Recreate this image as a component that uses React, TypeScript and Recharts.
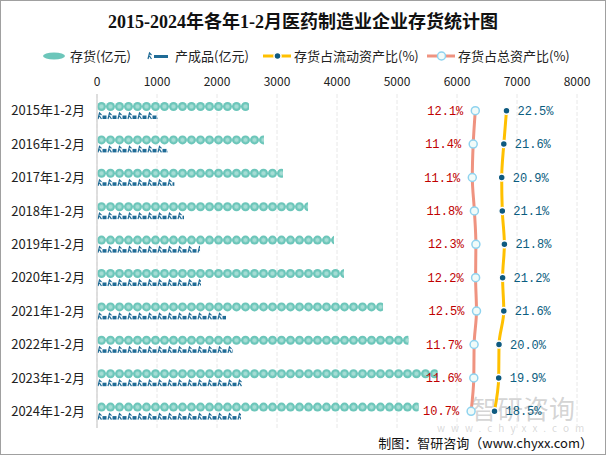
import React from 'react';
import { ComposedChart, Bar, Line, XAxis, YAxis, CartesianGrid, LabelList } from 'recharts';

const years = ['2015年1-2月', '2016年1-2月', '2017年1-2月', '2018年1-2月', '2019年1-2月', '2020年1-2月', '2021年1-2月', '2022年1-2月', '2023年1-2月', '2024年1-2月'];
const inventory = [2533, 2783, 3100, 3517, 3950, 4117, 4767, 5190, 5678, 5361];
const finishedGoods = [1017, 1183, 1289, 1450, 1717, 1733, 2150, 2267, 2417, 2400];
const currentAssetRatio = [22.5, 21.6, 20.9, 21.1, 21.8, 21.2, 21.6, 20.0, 19.9, 18.5];
const totalAssetRatio = [12.1, 11.4, 11.1, 11.8, 12.3, 12.2, 12.5, 11.7, 11.6, 10.7];
const valueTicks = [0, 1000, 2000, 3000, 4000, 5000, 6000, 7000, 8000];

const data = years.map((year, i) => ({
  year,
  inv: inventory[i],
  fg: finishedGoods[i],
  cur: currentAssetRatio[i],
  tot: totalAssetRatio[i],
}));

const CJK = '"Noto Sans CJK SC", "Noto Sans", sans-serif';
const INV_COLOR = '#6cc6ba';
const FG_COLOR = '#1f6b96';

const InvShape = (props: any) => {
  const { x, y, width, height, index } = props;
  if (!width || width <= 0) return null;
  const r = height / 2;
  const step = height;
  const n = Math.ceil(width / step);
  const id = `inv-clip-${index}`;
  return (
    <g>
      <defs>
        <clipPath id={id}>
          <rect x={x} y={y - 1} width={width} height={height + 2} />
        </clipPath>
      </defs>
      <g clipPath={`url(#${id})`}>
        {Array.from({ length: n }, (_, i) => {
          const cx = x + r + i * step;
          const cy = y + r;
          return (
            <g key={i}>
              <circle cx={cx} cy={cy} r={r} fill={INV_COLOR} />
              <circle cx={cx} cy={cy} r={r * 0.5} fill="#a6ddd5" stroke="#86d0c5" strokeWidth={0.8} />
            </g>
          );
        })}
      </g>
    </g>
  );
};

const FgShape = (props: any) => {
  const { x, y, width, height, index } = props;
  if (!width || width <= 0) return null;
  const step = 10;
  const n = Math.ceil(width / step);
  const id = `fg-clip-${index}`;
  const top = y + 1;
  const bot = y + height - 1;
  return (
    <g>
      <defs>
        <clipPath id={id}>
          <rect x={x} y={y - 1} width={width} height={height + 2} />
        </clipPath>
      </defs>
      <g clipPath={`url(#${id})`}>
        {Array.from({ length: n }, (_, i) => {
          const gx = x + 1 + i * step;
          return (
            <g key={i}>
              <path
                d={`M${gx},${bot} L${gx + 1.5},${top} L${gx + 3.5},${top + 2} M${gx + 1.5},${top + 3} L${gx + 3.5},${bot}`}
                stroke={FG_COLOR}
                strokeWidth={1.2}
                fill="none"
              />
              <rect x={gx + 4.5} y={top + 2.5} width={4} height={bot - top - 2.5} fill={FG_COLOR} />
            </g>
          );
        })}
      </g>
    </g>
  );
};

const TotLabel = (props: any) => {
  const { x, y, value } = props;
  return (
    <text x={x - 12} y={y + 4} textAnchor="end" fontSize={12} fill="#c00000" fontFamily='"Liberation Mono", monospace'>
      {value.toFixed(1)}%
    </text>
  );
};

const CurLabel = (props: any) => {
  const { x, y, value } = props;
  return (
    <text x={x + 11} y={y + 4} textAnchor="start" fontSize={12} fill="#0b5d80" fontFamily='"Liberation Mono", monospace'>
      {value.toFixed(1)}%
    </text>
  );
};

const legendText: React.CSSProperties = { position: 'absolute', top: 46, fontSize: 13, lineHeight: '18px', color: '#222', fontFamily: CJK, whiteSpace: 'nowrap' };

export default function App() {
  return (
    <div style={{ position: 'absolute', left: 0, top: 0, width: 606, height: 455, boxSizing: 'border-box', border: '1px solid #a0a0a0', background: '#fff', overflow: 'hidden', fontFamily: CJK }}>
      {/* watermark */}
      <div style={{ position: 'absolute', left: 470, top: 392, fontSize: 26, color: 'rgba(160,160,160,0.45)', fontFamily: CJK, lineHeight: '30px', whiteSpace: 'nowrap' }}>智研咨询</div>
      <div style={{ position: 'absolute', left: 436, top: 421, fontSize: 10, letterSpacing: 6, color: 'rgba(170,170,170,0.45)', fontFamily: CJK, lineHeight: '12px', whiteSpace: 'nowrap' }}>www.chyxx.com</div>

      <div style={{ position: 'absolute', left: 0, top: 0 }}>
        <ComposedChart
          width={604}
          height={453}
          data={data}
          layout="vertical"
          margin={{ top: 63, right: 28, bottom: 26, left: 0 }}
          barGap={1}
          barCategoryGap={0}
        >
          <CartesianGrid horizontal={false} vertical stroke="#e8e8e8" strokeDasharray="4 2" xAxisId={0} />
          <XAxis
            xAxisId={0}
            type="number"
            orientation="top"
            domain={[0, 8000]}
            ticks={valueTicks}
            axisLine={false}
            tickLine={false}
            height={30}
            tick={{ fontSize: 12, fill: '#222' }}
            interval={0}
          />
          <XAxis xAxisId="pct" type="number" hide domain={[-114, 46]} />
          <YAxis
            type="category"
            dataKey="year"
            width={96}
            axisLine={{ stroke: '#d6d6d6', strokeWidth: 1.5 }}
            tickLine={false}
            tickSize={0}
            tickMargin={12}
            tick={{ fontSize: 13, fill: '#222' }}
            interval={0}
          />
          <Bar xAxisId={0} dataKey="inv" barSize={9} shape={<InvShape />} isAnimationActive={false} />
          <Bar xAxisId={0} dataKey="fg" barSize={8} shape={<FgShape />} isAnimationActive={false} />
          <Line
            xAxisId="pct"
            dataKey="tot"
            type="monotone"
            stroke="#ef9380"
            strokeWidth={3}
            dot={{ r: 4, fill: '#f1fbf9', stroke: '#8fd3ef', strokeWidth: 1.5 }}
            isAnimationActive={false}
          >
            <LabelList dataKey="tot" content={<TotLabel />} />
          </Line>
          <Line
            xAxisId="pct"
            dataKey="cur"
            type="monotone"
            stroke="#ffc000"
            strokeWidth={3}
            dot={{ r: 3.5, fill: '#0e5a80', stroke: '#ffffff', strokeWidth: 1.5 }}
            isAnimationActive={false}
          >
            <LabelList dataKey="cur" content={<CurLabel />} />
          </Line>
        </ComposedChart>
      </div>

      {/* title */}
      <div style={{ position: 'absolute', left: 0, width: 604, top: 8, textAlign: 'center', fontSize: 18, fontWeight: 'bold', lineHeight: '26px', color: '#111', fontFamily: '"Liberation Serif", "Noto Sans CJK SC", serif' }}>
        2015-2024年各年1-2月医药制造业企业存货统计图
      </div>

      {/* legend */}
      <svg style={{ position: 'absolute', left: 0, top: 44 }} width={604} height={22}>
        <ellipse cx={53} cy={11} rx={11} ry={3.5} fill={INV_COLOR} />
        <g>
          <path d="M147,14 L148.5,8 L150.5,10 M148.5,11 L150.5,14" stroke={FG_COLOR} strokeWidth={1.2} fill="none" />
          <rect x={153} y={10} width={14} height={3} fill={FG_COLOR} />
        </g>
        <line x1={262} y1={11} x2={290} y2={11} stroke="#ffc000" strokeWidth={3} />
        <circle cx={276.5} cy={11} r={3.5} fill="#0e5a80" stroke="#fff" strokeWidth={1.5} />
        <line x1={426} y1={11} x2={454} y2={11} stroke="#ef9380" strokeWidth={3} />
        <circle cx={440.5} cy={11} r={4} fill="#f1fbf9" stroke="#8fd3ef" strokeWidth={1.5} />
      </svg>
      <div style={{ ...legendText, left: 69 }}>存货(亿元)</div>
      <div style={{ ...legendText, left: 174 }}>产成品(亿元)</div>
      <div style={{ ...legendText, left: 293 }}>存货占流动资产比(%)</div>
      <div style={{ ...legendText, left: 457 }}>存货占总资产比(%)</div>

      {/* footer */}
      <div style={{ position: 'absolute', right: 12, top: 432, fontSize: 13, lineHeight: '20px', color: '#111', fontFamily: CJK, whiteSpace: 'nowrap' }}>
        制图：智研咨询（www.chyxx.com）
      </div>
    </div>
  );
}
